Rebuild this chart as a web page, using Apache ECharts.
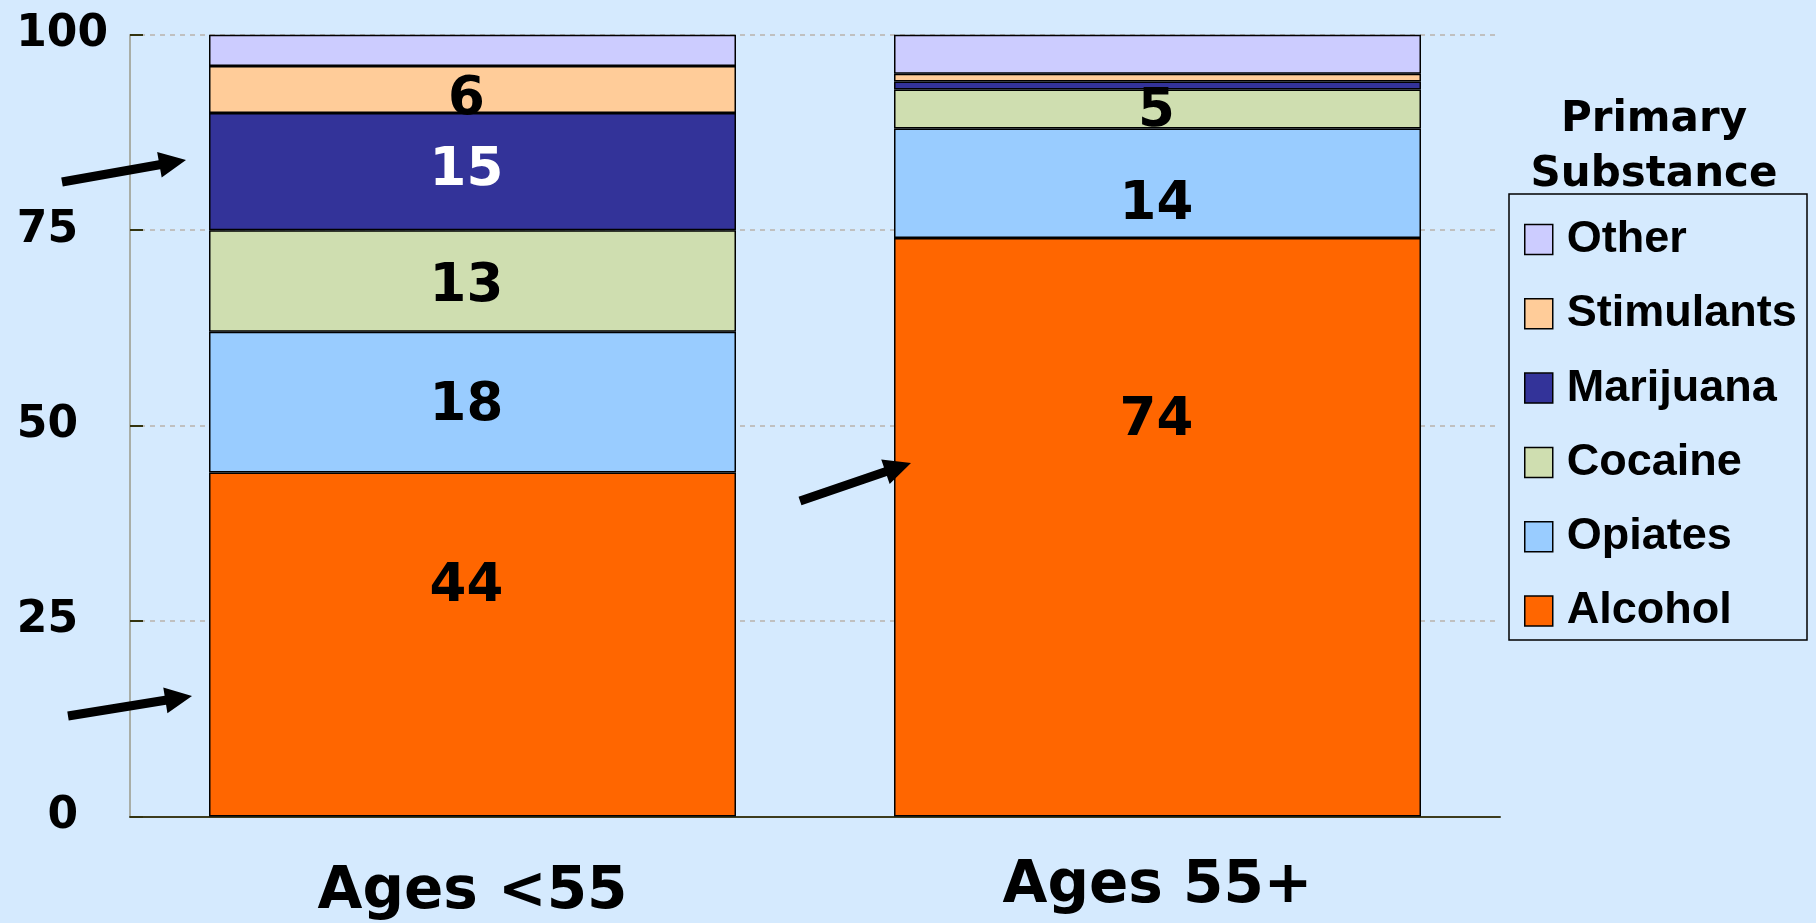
<!DOCTYPE html>
<html>
<head>
<meta charset="utf-8">
<script src="https://cdn.jsdelivr.net/npm/echarts@6/dist/echarts.min.js"></script>
<style>
html,body{margin:0;padding:0;background:#D5EAFE;}
#chart{width:1816px;height:923px;}
</style>
</head>
<body>
<div id="chart"></div>
<script>
const categories = ['Ages <55', 'Ages 55+'];
const seriesNames = ['Alcohol', 'Opiates', 'Cocaine', 'Marijuana', 'Stimulants', 'Other'];
const alcohol = [44, 74];
const opiates = [18, 14];
const cocaine = [13, 5];
const marijuana = [15, 1];
const stimulants = [6, 1];
const other = [4, 5];
const yTicks = [0, 25, 50, 75, 100];

const values = [alcohol, opiates, cocaine, marijuana, stimulants, other];
const colors = ['#FF6600', '#99CCFF', '#CFDEB0', '#333399', '#FFCC99', '#CCCCFF'];
// label offsets (px) per series per category, to match the reference placement
const labelOffsets = {
  Alcohol: [-57, -106],
  Opiates: [4, 22],
  Cocaine: [6, 3],
  Marijuana: [0, 0],
  Stimulants: [11, 0],
  Other: [0, 0]
};
const labelShiftX = [-6, -1];

const FONT = 'DejaVu Sans';

const series = seriesNames.map((name, si) => ({
  name: name,
  type: 'bar',
  stack: 'total',
  barWidth: 527,
  itemStyle: { color: colors[si], borderColor: '#000', borderWidth: 1.5 },
  data: values[si].map((v, ci) => ({
    value: v,
    label: {
      show: name !== 'Other' && v >= 5,
      position: 'inside',
      offset: [labelShiftX[ci], labelOffsets[name][ci]],
      formatter: String(v),
      color: name === 'Marijuana' ? '#fff' : '#000',
      fontFamily: FONT,
      fontWeight: 'bold',
      fontSize: 53
    }
  }))
}));

function arrow(x1, y1, x2, y2) {
  const dx = x2 - x1, dy = y2 - y1;
  const len = Math.sqrt(dx * dx + dy * dy);
  const ux = dx / len, uy = dy / len;
  const nx = -uy, ny = ux;
  const hw = 4.5, headL = 27, headW = 13;
  const bx = x2 - ux * headL, by = y2 - uy * headL;
  return {
    type: 'polygon',
    z: 100,
    shape: { points: [
      [x1 + nx * hw, y1 + ny * hw],
      [bx + nx * hw, by + ny * hw],
      [bx + nx * headW, by + ny * headW],
      [x2, y2],
      [bx - nx * headW, by - ny * headW],
      [bx - nx * hw, by - ny * hw],
      [x1 - nx * hw, y1 - ny * hw]
    ] },
    style: { fill: '#000' }
  };
}

const tickRich = { fontFamily: FONT, fontWeight: 'bold', fontSize: 44, color: '#000' };

const chart = echarts.init(document.getElementById('chart'));
chart.setOption({
  backgroundColor: '#D5EAFE',
  animation: false,
  title: {
    text: 'Primary\nSubstance',
    left: 1649,
    top: 88,
    textAlign: 'center',
    textStyle: { fontFamily: FONT, fontWeight: 'bold', fontSize: 42, lineHeight: 55, color: '#000' }
  },
  grid: { left: 130, right: 316, top: 34.7, bottom: 106.5 },
  legend: {
    orient: 'vertical',
    left: 1524,
    top: 217,
    itemWidth: 28,
    itemHeight: 30,
    itemGap: 29.3,
    padding: 0,
    icon: 'rect',
    data: seriesNames.slice().reverse(),
    itemStyle: { borderColor: '#000', borderWidth: 1.5 },
    textStyle: { fontFamily: 'Liberation Sans', fontWeight: 'bold', fontSize: 45, color: '#000', padding: [0, 0, 0, 9] }
  },
  xAxis: {
    type: 'category',
    data: categories.map((c, i) => ({ value: c, textStyle: { padding: [i === 0 ? 6 : 0, 0, 0, 0] } })),
    axisLine: { lineStyle: { color: '#3d3d1f', width: 2 } },
    axisTick: { show: false },
    axisLabel: { margin: 41, fontFamily: FONT, fontWeight: 'bold', fontSize: 58, color: '#000' }
  },
  yAxis: {
    type: 'value',
    min: 0,
    max: 100,
    interval: 25,
    axisLine: { show: true, lineStyle: { color: '#9a9a8a', width: 1.5 } },
    axisTick: { show: true, inside: true, length: 13, lineStyle: { color: '#33330f', width: 2 } },
    axisLabel: {
      margin: 22,
      formatter: v => yTicks.indexOf(v) < 0 ? '' : (v === 100 ? '{top|' + v + '}' : '{n|' + v + '}'),
      rich: {
        top: Object.assign({}, tickRich),
        n: Object.assign({ padding: [0, 30, 0, 0] }, tickRich)
      }
    },
    splitLine: { show: true, lineStyle: { color: '#c0c0c0', width: 2, type: [5, 5] } }
  },
  graphic: [
    { type: 'rect', shape: { x: 1509, y: 194, width: 298, height: 446 }, style: { fill: 'none', stroke: '#000', lineWidth: 1.5 } },
    arrow(62, 182, 186, 160),
    arrow(68, 716, 192, 696),
    arrow(800, 501, 911, 463)
  ],
  series: series
});
</script>
</body>
</html>
